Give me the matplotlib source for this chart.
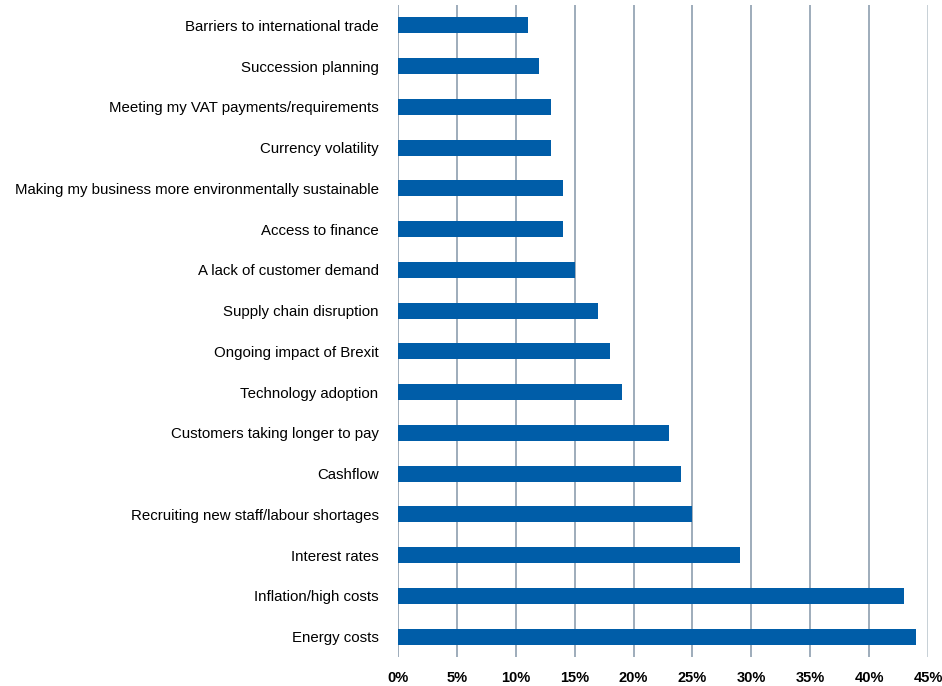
import matplotlib.pyplot as plt

categories = [
    'Energy costs',
    'Inflation/high costs',
    'Interest rates',
    'Recruiting new staff/labour shortages',
    'Cashflow',
    'Customers taking longer to pay',
    'Technology adoption',
    'Ongoing impact of Brexit',
    'Supply chain disruption',
    'A lack of customer demand',
    'Access to finance',
    'Making my business more environmentally sustainable',
    'Currency volatility',
    'Meeting my VAT payments/requirements',
    'Succession planning',
    'Barriers to international trade',
]
values = [44, 43, 29, 25, 24, 23, 19, 18, 17, 15, 14, 14, 13, 13, 12, 11]
xticks = [0, 5, 10, 15, 20, 25, 30, 35, 40, 45]

plt.rcParams['font.family'] = ['Liberation Sans', 'DejaVu Sans']

fig = plt.figure(figsize=(9.42, 6.86), dpi=100)
ax = fig.add_axes([398 / 942, 1 - 657 / 686, 530 / 942, 652 / 686])

ypos = list(range(len(categories)))
ax.barh(ypos, values, height=0.39, color='#005da8', zorder=3)

for x in xticks:
    c = '#b8c4cc' if x == 45 else '#8496a8'
    ax.axvline(x, color=c, linewidth=1.1, zorder=1)

ax.set_xlim(0, 45)
ax.set_ylim(-0.5, len(categories) - 0.5)
ax.set_yticks(ypos)
ax.set_yticklabels(categories, fontsize=10.8)
ax.set_xticks(xticks)
ax.set_xticklabels([f'{x}%' for x in xticks], fontsize=10.5, fontweight='bold')
ax.tick_params(axis='y', length=0, pad=14)
ax.tick_params(axis='x', length=0, pad=10)
for s in ax.spines.values():
    s.set_visible(False)

fig.savefig('out.png', dpi=100)
